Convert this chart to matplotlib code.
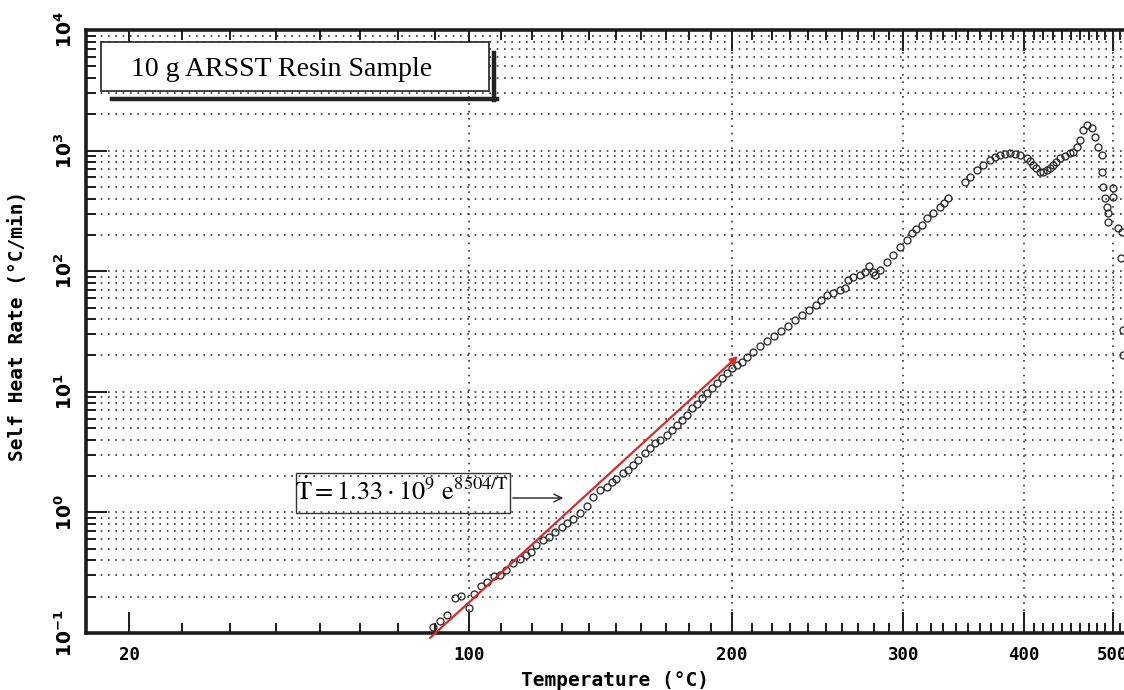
import numpy as np
import matplotlib
matplotlib.use("Agg")
import matplotlib.pyplot as plt
from matplotlib.ticker import LogLocator, NullFormatter
from matplotlib.lines import Line2D
from matplotlib.patches import Rectangle, FancyArrowPatch

# ARSST self-heat data (temperature in C, rate in C/min)
temp_c = [
    89.5, 91.5, 93.4, 95.9, 97.6, 99.9, 101.5, 103.8, 105.5, 107.7,
    109.5, 111.6, 113.7, 115.9, 117.9, 119.7, 121.4, 123.7, 125.7, 127.7,
    130.0, 131.8, 134.2, 136.6, 139.0, 141.4, 143.9, 146.4, 148.3, 150.2,
    152.8, 154.8, 156.8, 158.8, 161.6, 163.6, 165.6, 167.7, 170.5, 172.6,
    174.8, 176.9, 179.1, 181.4, 183.6, 185.9, 188.2, 190.6, 192.9, 195.1,
    197.6, 200.0, 202.4, 204.8, 207.3, 210.3, 213.9, 217.5, 221.0, 224.8,
    228.6, 232.5, 236.4, 240.3, 244.3, 247.3, 250.5, 254.5, 258.5, 261.6,
    263.6, 266.8, 271.0, 274.2, 277.0, 279.6, 280.7, 284.0, 288.6, 293.1,
    297.8, 302.5, 306.1, 309.2, 313.4, 317.1, 322.1, 327.3, 330.5, 333.8,
    347.4, 351.5, 357.2, 362.9, 368.8, 373.3, 377.8, 382.4, 387.0, 391.7,
    396.5, 403.1, 406.4, 409.7, 412.5, 416.5, 419.5, 423.4, 426.9, 430.4,
    433.3, 437.6, 443.1, 448.6, 452.0, 456.3, 460.0, 463.9, 467.9, 473.8,
    477.8, 481.9, 486.0, 486.0, 488.1, 490.2, 492.3, 494.3, 494.3, 500.0,
    500.7, 507.2, 511.7, 511.0, 513.5, 513.5,
]
rate = [
    0.112, 0.126, 0.141, 0.195, 0.203, 0.161, 0.210, 0.245, 0.266, 0.297,
    0.303, 0.333, 0.378, 0.411, 0.443, 0.472, 0.537, 0.590, 0.629, 0.692,
    0.761, 0.822, 0.877, 0.984, 1.13, 1.35, 1.53, 1.63, 1.80, 1.88,
    2.11, 2.25, 2.47, 2.72, 3.09, 3.40, 3.74, 3.98, 4.38, 4.82,
    5.31, 5.84, 6.43, 7.30, 7.93, 8.83, 9.72, 10.7, 11.8, 12.9,
    14.2, 15.7, 16.7, 17.8, 19.5, 21.4, 24.0, 26.4, 29.0, 31.9,
    35.1, 39.4, 43.3, 47.7, 52.5, 57.7, 63.5, 66.4, 69.8, 72.1,
    84.5, 90.0, 92.9, 99.0, 110, 99.0, 92.9, 102, 120, 136,
    160, 181, 206, 224, 242, 275, 302, 343, 368, 402,
    552, 608, 691, 760, 836, 885, 920, 938, 950, 938,
    920, 863, 820, 760, 718, 668, 665, 691, 718, 760,
    804, 863, 902, 950, 972, 1077, 1224, 1482, 1630, 1531,
    1303, 1077, 920, 668, 502, 402, 343, 302, 258, 486,
    414, 227, 213, 128, 32.7, 20.0,
]

# red Arrhenius fit line, end points
fit_temp = [88.7, 202.9]
fit_rate = [0.091, 19.8]

major_temps = [20, 100, 200, 300, 400, 500]
minor_temps = [30, 40, 50, 60, 70, 80, 90,
               110, 120, 130, 140, 150, 160, 170, 180, 190,
               210, 220, 230, 240, 250, 260, 270, 280, 290,
               310, 320, 330, 340, 350, 360, 370, 380, 390,
               410, 420, 430, 440, 450, 460, 470, 480, 490, 510]
grid_temps = [100, 200, 300, 400, 500]
decades = [0.1, 1, 10, 100, 1000, 10000]
decade_labels = [r"$\mathbf{10^{-1}}$", r"$\mathbf{10^{0}}$", r"$\mathbf{10^{1}}$",
                 r"$\mathbf{10^{2}}$", r"$\mathbf{10^{3}}$", r"$\mathbf{10^{4}}$"]

W, H = 1124, 690
INK = "#1c1c1c"
MONO = "DejaVu Sans Mono"


def fwd(t):
    with np.errstate(divide="ignore", invalid="ignore"):
        return -1000.0 / (np.asarray(t, dtype=float) + 273.15)


def inv(u):
    with np.errstate(divide="ignore", invalid="ignore"):
        return -1000.0 / np.asarray(u, dtype=float) - 273.15


def fx(px):
    return px / W


def fy(py):
    return 1 - py / H


fig = plt.figure(figsize=(W / 100, H / 100), dpi=100)
ax = fig.add_axes([fx(86), fy(633), (W - 86) / W, (633 - 30) / H])

ax.set_xscale("function", functions=(fwd, inv))
ax.set_yscale("log")
ax.set_xlim(12.2, 514.7)
ax.set_ylim(0.1, 1e4)

ax.set_xticks(major_temps)
ax.set_xticks(minor_temps, minor=True)
ax.set_xticklabels([str(t) for t in major_temps], family=MONO,
                   fontweight="bold", fontsize=12.5)
ax.set_yticks(decades)
ax.set_yticklabels(decade_labels, rotation=90, va="center", fontsize=13.5)
ax.yaxis.set_minor_locator(LogLocator(base=10, subs=np.arange(2, 10)))
ax.yaxis.set_minor_formatter(NullFormatter())

ax.tick_params(which="both", direction="in", top=True, right=False,
               color=INK, width=1.4)
ax.tick_params(which="major", length=15)
ax.tick_params(which="minor", length=7)
ax.tick_params(axis="x", pad=9)
ax.tick_params(axis="y", pad=7)

for side in ["left", "bottom", "top"]:
    ax.spines[side].set_linewidth(2.6)
    ax.spines[side].set_color(INK)
ax.spines["right"].set_visible(False)

dots = (0, (1, 3.4))
ax.yaxis.grid(True, which="both", linestyle=dots, linewidth=1.2, color="#333333")
for t in grid_temps:
    ax.axvline(t, linestyle=dots, linewidth=1.2, color="#333333", zorder=0.5)

ax.plot(temp_c, rate, "o", mfc="none", mec="#2b2b2b", ms=5.0, mew=0.95, zorder=3)

ax.annotate("", xy=(fit_temp[1], fit_rate[1]), xytext=(fit_temp[0], fit_rate[0]),
            arrowprops=dict(arrowstyle="-|>", color="#d42c2c", lw=1.6,
                            mutation_scale=11, shrinkA=0, shrinkB=0),
            annotation_clip=False, zorder=4)

# axis labels
fig.text(fx(615), fy(681), "Temperature (°C)", family=MONO, fontweight="bold",
         fontsize=14, ha="center", va="center")
fig.text(fx(18), fy(326), "Self Heat Rate (°C/min)", family=MONO, fontweight="bold",
         fontsize=14, rotation=90, ha="center", va="center")

# sample title box with drop shadow
fig.add_artist(Line2D([fx(112), fx(497)], [fy(99), fy(99)], color="#222222", lw=3.2,
                      transform=fig.transFigure, zorder=4))
fig.add_artist(Line2D([fx(494), fx(494)], [fy(53), fy(100)], color="#222222", lw=3.2,
                      transform=fig.transFigure, zorder=4))
fig.add_artist(Rectangle((fx(101), fy(91)), 388 / W, 49 / H, transform=fig.transFigure,
                         facecolor="white", edgecolor="#222222", lw=1.2, zorder=5))
fig.text(fx(282), fy(70), "10 g ARSST Resin Sample", family="Liberation Serif",
         fontsize=20, ha="center", va="center", zorder=6)

# fit equation box with arrow
fig.add_artist(Rectangle((fx(296), fy(513)), 214 / W, 40 / H, transform=fig.transFigure,
                         facecolor="none", edgecolor="#333333", lw=1.0, zorder=5))
fig.text(fx(402), fy(492), r"$\dot{\mathrm{T}} = 1.33\cdot10^{9}\ \mathrm{e}^{8504/\mathrm{T}}$",
         math_fontfamily="stix", fontsize=19, ha="center", va="center", zorder=6)
fig.add_artist(FancyArrowPatch((fx(510), fy(498)), (fx(566), fy(498)),
                               transform=fig.transFigure, arrowstyle="->",
                               mutation_scale=14, lw=1.0, color="#222222", zorder=5))

fig.savefig("out.png", dpi=100)
